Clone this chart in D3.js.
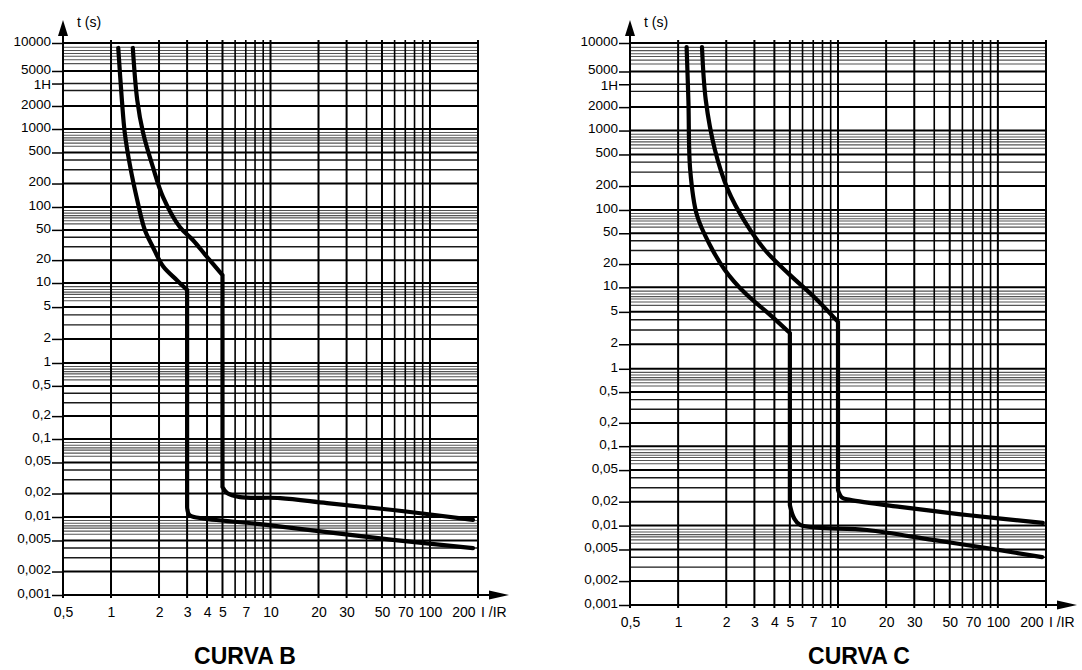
<!DOCTYPE html>
<html><head><meta charset="utf-8">
<script src="https://cdn.jsdelivr.net/npm/d3@7"></script>
<style>
body{margin:0;background:#fff}
svg{display:block}
text{font-family:"Liberation Sans", Arial, Helvetica, sans-serif;fill:#000}
</style>
</head><body>
<svg id="c" width="1082" height="670"></svg>
<script>
// ---- tick labels ----
const yTickValues = [10000,5000,3600,2000,1000,500,200,100,50,20,10,5,2,1,0.5,0.2,0.1,0.05,0.02,0.01,0.005,0.002,0.001];
const yTickLabels = ["10000","5000","1H","2000","1000","500","200","100","50","20","10","5","2","1","0,5","0,2","0,1","0,05","0,02","0,01","0,005","0,002","0,001"];
const xTickValues = [0.5,1,2,3,4,5,7,10,20,30,50,70,100,200];
const xTickLabels = ["0,5","1","2","3","4","5","7","10","20","30","50","70","100","200"];
const xGridValues = [0.5,1,2,3,4,5,6,7,8,9,10,20,30,40,50,60,70,80,90,100,200];
const xGridMajor = [0.5,1,2,3,4,5,10,20,30,50,100,200];
const decades = [0.001,0.01,0.1,1,10,100,1000];
const majorSteps = [1,2,5];
const mediumSteps = [3,4];
const fineSteps = [9,8.3,7.7,7.2,6.6,6];
const hourValue = 3600;
const titles = ["CURVA B","CURVA C"];
// the printed time axis is not perfectly logarithmic: breakpoints of the paper scale
const yBreakValues = [0.001,0.01,0.1,1,10,100,1000,2000,5000,10000];

// ---- curve B (I/IR, t seconds) ----
const bMinI = [1.11,1.17,1.22,1.32,1.46,1.63,1.83,2.12,2.59,3.0,3.0,3.1,3.6,8.6,22.6,58.6,186];
const bMinT = [8840,2340,889,326,123,49.8,29.8,16.6,10.9,8.2,0.0134,0.0106,0.0097,0.0081,0.0064,0.0051,0.0040];
const bMaxI = [1.37,1.46,1.59,1.83,2.12,2.70,3.26,4.0,5.0,5.0,5.34,6.44,11.5,22.6,58.6,186];
const bMaxT = [8840,2340,889,326,134,54.5,36.8,22,12.7,0.0243,0.0203,0.018,0.0175,0.0151,0.0123,0.0092];

// ---- curve C ----
const cMinI = [1.13,1.16,1.19,1.31,1.58,1.96,2.62,3.76,5.0,5.0,5.3,5.8,15.2,39.3,103,189];
const cMinT = [9070,2300,319,86,35.3,16.8,8.5,4.6,2.75,0.0182,0.0125,0.0102,0.0088,0.0066,0.0049,0.0040];
const cMaxI = [1.41,1.49,1.70,2.05,2.62,3.49,5.0,7.2,10,10,10.6,11.9,24.4,64,191];
const cMaxT = [9070,2380,570,179,70,30.4,14.5,7.4,3.76,0.028,0.0225,0.0211,0.0172,0.0136,0.0108];

const panels = [
  {x0:63,  x1:478,  y0:43, y1:595, tcx:245, curves:[[bMinI,bMinT],[bMaxI,bMaxT]]},
  {x0:630, x1:1046, y0:43, y1:605, tcx:859, curves:[[cMinI,cMinT],[cMaxI,cMaxT]]}
];
const yBreakFrac = [1,0.8587,0.7174,0.5797,0.4348,0.2971,0.1558,0.1141,0.0507,0];

const svg = d3.select("#c");

function hGrid(){
  const arr=[];
  decades.forEach(d=>{
    majorSteps.forEach(s=>arr.push({v:d*s,k:"major"}));
    mediumSteps.forEach(s=>{ if(!(d===1000 && s===4)) arr.push({v:d*s,k:"medium"}); });
    fineSteps.forEach(s=>arr.push({v:d*s,k:"fine"}));
  });
  arr.push({v:10000,k:"major"});
  arr.push({v:hourValue,k:"medium"});
  return arr;
}
const hStyle = {major:{c:"#000",w:2}, medium:{c:"#1a1a1a",w:1.4}, fine:{c:"#555",w:1.1}};

panels.forEach((p,pi)=>{
  const x = d3.scaleLog().domain([0.5,200]).range([p.x0,p.x1]);
  const y = d3.scaleLog().domain(yBreakValues).range(yBreakFrac.map(f=>p.y0+f*(p.y1-p.y0)));
  const g = svg.append("g");

  // horizontal grid
  g.append("g").selectAll("line").data(hGrid()).join("line")
    .attr("x1",p.x0).attr("x2",p.x1)
    .attr("y1",d=>y(d.v)).attr("y2",d=>y(d.v))
    .attr("stroke",d=>hStyle[d.k].c).attr("stroke-width",d=>hStyle[d.k].w);

  // vertical grid
  g.append("g").selectAll("line").data(xGridValues).join("line")
    .attr("x1",d=>x(d)).attr("x2",d=>x(d))
    .attr("y1",p.y0-3).attr("y2",p.y1+3)
    .attr("stroke","#000").attr("stroke-width",d=>xGridMajor.includes(d)?2:1.6);

  // y axis
  const ya = g.append("g").attr("transform",`translate(${p.x0},0)`)
    .call(d3.axisLeft(y).tickValues(yTickValues).tickFormat((d,i)=>yTickLabels[i]).tickSize(11).tickPadding(1));
  ya.select(".domain").remove();
  ya.selectAll(".tick line").attr("stroke","#000").attr("stroke-width",1.5);
  ya.selectAll(".tick text").attr("font-size",13.5)
    .attr("dy",(d)=>d===hourValue?"0.4em":"0.18em")
    .style("font-family","'Liberation Sans', Arial, sans-serif");
  g.append("line").attr("x1",p.x0).attr("x2",p.x0).attr("y1",p.y0-12).attr("y2",p.y1+3)
    .attr("stroke","#000").attr("stroke-width",2);
  g.append("path").attr("d",`M${p.x0},${p.y0-23} L${p.x0-5},${p.y0-7} L${p.x0+5},${p.y0-7} Z`).attr("fill","#000");
  g.append("text").attr("x",p.x0+14).attr("y",p.y0-16).attr("font-size",14).text("t (s)");

  // x axis
  const xa = g.append("g").attr("transform",`translate(0,${p.y1})`)
    .call(d3.axisBottom(x).tickValues(xTickValues).tickFormat((d,i)=>xTickLabels[i]).tickSize(0).tickPadding(12));
  xa.select(".domain").remove();
  xa.selectAll(".tick text").attr("font-size",14)
    .style("font-family","'Liberation Sans', Arial, sans-serif");
  xa.selectAll(".tick text").filter((d,i)=>i===xTickValues.length-1).attr("text-anchor","end").attr("dx",-3);
  g.append("line").attr("x1",p.x0).attr("x2",p.x1+20).attr("y1",p.y1).attr("y2",p.y1)
    .attr("stroke","#000").attr("stroke-width",2);
  g.append("path").attr("d",`M${p.x1+31},${p.y1} L${p.x1+11},${p.y1-4.5} L${p.x1+11},${p.y1+4.5} Z`).attr("fill","#000");
  g.append("text").attr("x",p.x1+3).attr("y",p.y1+22).attr("font-size",14).text("I /IR");

  // curves: smooth thermal part, straight magnetic (vertical) drop, smooth tail
  const smooth = d3.line().x(d=>x(d[0])).y(d=>y(d[1])).curve(d3.curveCatmullRom.alpha(0.5));
  const straight = d3.line().x(d=>x(d[0])).y(d=>y(d[1]));
  p.curves.forEach(([I,T])=>{
    const pts = I.map((v,i)=>[v,T[i]]);
    const a = pts.findIndex((d,i)=>i<pts.length-1 && pts[i+1][0]===d[0]);
    const b = a+1;
    const d = smooth(pts.slice(0,a+1)) + straight(pts.slice(a,b+1)) + smooth(pts.slice(b));
    g.append("path").attr("d",d)
      .attr("fill","none").attr("stroke","#000").attr("stroke-width",4.2)
      .attr("stroke-linejoin","round").attr("stroke-linecap","round");
  });

  // title
  g.append("text").attr("x",p.tcx).attr("y",664).attr("text-anchor","middle")
    .attr("font-size",23).attr("font-weight","bold").text(titles[pi]);
});
</script>
</body></html>
